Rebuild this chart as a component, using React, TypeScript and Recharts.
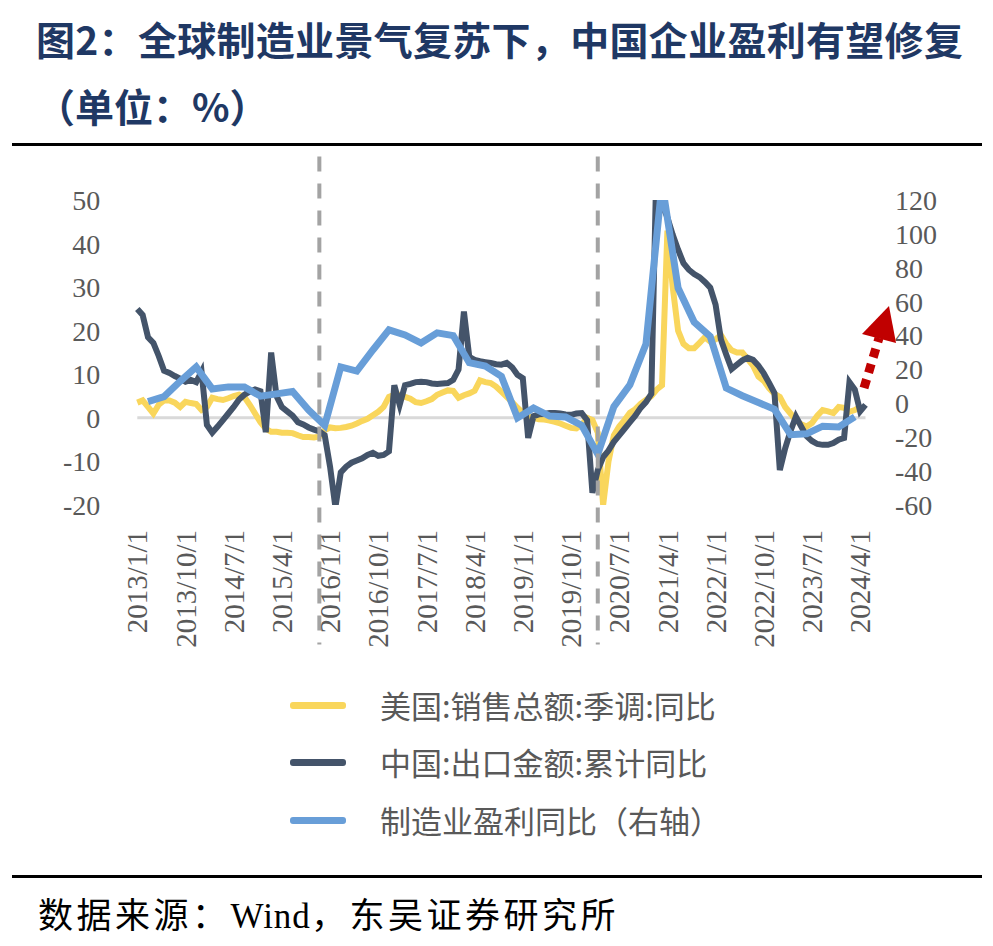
import React from 'react';
import { LineChart, Line, XAxis, YAxis, ReferenceLine } from 'recharts';

// Monthly categories 2013/1 .. 2024/5
const FIRST_YEAR = 2013;
const MONTHS = 137;
const dates: string[] = Array.from({ length: MONTHS }, (_, i) => `${FIRST_YEAR + Math.floor(i / 12)}/${(i % 12) + 1}/1`);

// 美国:销售总额:季调:同比 (left axis, %)
const usSales: (number | null)[] = [
  3.5, 4, 2.5, 1, 3, 4, 4, 3.5, 2.5, 3.7, 3.4, 3.2,
  1.8, 2.5, 4.6, 4.3, 4.1, 4.5, 5, 5.3, 4.8, 3, 1, -1,
  -2.5, -3.2, -3.2, -3.4, -3.4, -3.5, -4, -4.4, -4.4, -4.5, -4.3, -2.8,
  -2.2, -2.4, -2.3, -2.1, -1.8, -1.3, -0.7, -0.2, 0.6, 1.4, 2.5, 4.8,
  5.3, 5.3, 4.8, 4.4, 3.6, 3.4, 3.8, 4.3, 5.3, 5.8, 6.3, 6.2,
  4.6, 5.2, 5.6, 6.2, 8.6, 8.2, 8, 7.2, 6, 4.8, 3.6, 2.3,
  1.2, 0.4, 0, -0.3, -0.4, -0.6, -0.9, -1.3, -1.8, -2.3, -2.4, -1.6,
  0, -0.5, -3.4, -20, -10, -4, -2, -0.5, 1.2, 2, 3.2, 4.1,
  5, 6.5, 7.5, 43, 30, 20, 17, 16, 16, 17.2, 18.5, 17.5,
  18, 19, 17, 15.5, 15, 15, 13.5, 12, 9.5, 8.5, 6.8, 5.5,
  4.8, 2.5, 1, -0.5, -1.5, -2, -1.2, 0.5, 1.8, 1.5, 1.1, 2.5,
  2.3, 1.4, 1.8, 2.5, null,
];

// 中国:出口金额:累计同比 (left axis, %)
const cnExports: (number | null)[] = [
  25, 23.6, 18.5, 17.2, 14.2, 10.8, 10.3, 9.6, 9, 8.3, 8.7, 8.2,
  10.6, -1.6, -3.4, -2, -0.5, 1, 2.5, 4.2, 5.3, 6, 6.5, 6.1,
  -3.3, 15, 5, 2.5, 1.5, 0.5, -1, -1.5, -2.2, -2.7, -3.1, -4,
  -11.2, -20.5, -12.5, -11.2, -10.3, -9.8, -9.3, -8.5, -8, -8.7, -8.5, -7.7,
  7.5, 3, 7.5, 7.8, 8.2, 8.3, 8.2, 7.9, 7.8, 7.9, 8, 8.7,
  11.1, 24.4, 14, 13.3, 13, 12.8, 12.6, 12.3, 12.2, 12.6, 11.6, 9.9,
  9.1, -4.6, 0.4, 0.8, 0.9, 1.1, 1.1, 1, 0.8, 0.7, 1, 1.1,
  -0.5, -17.2, -12, -9, -7.5, -5.5, -4, -2.5, -1, 0.5, 2.3, 3.6,
  5.5, 60.6, 49, 46, 42, 38.6, 35.5, 34, 33, 32.3, 31.2, 29.9,
  26, 18, 14.5, 11.2, 12.2, 13.2, 13.8, 13.3, 12, 10.2, 8, 5.7,
  -12, -7, -3, 0.3, -2, -4.2, -5.3, -6, -6.2, -6.2, -5.8, -5,
  -4.6, 8.2, 6.5, 1.5, 3,
];

// 制造业盈利同比（右轴）, quarterly (Mar/Jun/Sep/Dec), 2013Q1 .. 2024Q1
const profitQuarterly: number[] = [
  1, 4, 13, 21.5,
  8.5, 9.7, 9.7, 4.2,
  5.6, 7, -4, -13,
  21.5, 19, 31.5, 43.4,
  40.4, 35.6, 41.6, 40,
  24, 22, 16, -8.6,
  -2.7, -7.5, -8, -13,
  -30, -2, 11, 35,
  130, 68, 48, 39.5,
  9, 4.5, 0.5, -3.5,
  -18.5, -18, -13.5, -14,
  -8,
];

const leftTicks = [-20, -10, 0, 10, 20, 30, 40, 50];
const rightTicks = [-60, -40, -20, 0, 20, 40, 60, 80, 100, 120];
const markerDates = ['2015/11/1', '2020/3/1'];

const seriesNames = {
  us: '美国:销售总额:季调:同比',
  cn: '中国:出口金额:累计同比',
  profit: '制造业盈利同比（右轴）',
};

const rows = dates.map((date, i) => ({
  date,
  us: usSales[i] ?? null,
  cn: cnExports[i] ?? null,
  profit: i % 3 === 2 && profitQuarterly[(i - 2) / 3] !== undefined ? profitQuarterly[(i - 2) / 3] : null,
}));

const COLORS = { us: '#F9D65C', cn: '#44546A', profit: '#689ED8' };
const AXIS_FONT = '"Liberation Serif", "Times New Roman", serif';
const CJK_FONT = '"Noto Sans CJK SC", "Noto Sans", sans-serif';

const XTick = (props: any) => {
  const { x, y, payload } = props;
  return (
    <text
      x={x}
      y={y}
      transform={`rotate(-90, ${x}, ${y})`}
      textAnchor="end"
      dy="0.35em"
      fontSize={29}
      fill="#595959"
      fontFamily={AXIS_FONT}
    >
      {payload.value}
    </text>
  );
};

const tickStyle = { fontSize: 28, fill: '#595959', fontFamily: AXIS_FONT };

export default function App() {
  const legendItems = [
    { key: 'us', label: seriesNames.us, color: COLORS.us, cy: 705 },
    { key: 'cn', label: seriesNames.cn, color: COLORS.cn, cy: 762 },
    { key: 'profit', label: seriesNames.profit, color: COLORS.profit, cy: 820 },
  ];
  return (
    <div style={{ position: 'absolute', left: 0, top: 0, width: 993, height: 946, background: '#fff', overflow: 'hidden' }}>
      <div style={{ position: 'absolute', left: 36, top: 17, fontFamily: CJK_FONT, fontWeight: 700, fontSize: 39, letterSpacing: 0.3, lineHeight: '42px', color: '#1F3864', whiteSpace: 'nowrap' }}>
        图2：全球制造业景气复苏下，中国企业盈利有望修复
      </div>
      <div style={{ position: 'absolute', left: 36, top: 84, fontFamily: CJK_FONT, fontWeight: 700, fontSize: 39, lineHeight: '42px', color: '#1F3864', whiteSpace: 'nowrap' }}>
        （单位：%）
      </div>
      <div style={{ position: 'absolute', left: 12, top: 143, width: 970, height: 3, background: '#000' }} />
      <div style={{ position: 'absolute', left: 12, top: 875, width: 970, height: 3, background: '#000' }} />

      <div style={{ position: 'absolute', left: 0, top: 0 }}>
        <LineChart width={993} height={655} data={rows} margin={{ top: 200, right: 0, bottom: 0, left: 0 }}>
          <XAxis
            dataKey="date"
            interval={8}
            tick={<XTick />}
            axisLine={false}
            tickLine={false}
            tickMargin={19}
            height={150}
          />
          <YAxis
            yAxisId="left"
            domain={[-20, 50]}
            ticks={leftTicks}
            interval={0}
            allowDataOverflow
            width={137.3}
            axisLine={false}
            tickLine={false}
            tickMargin={31}
            tick={tickStyle}
          />
          <YAxis
            yAxisId="right"
            orientation="right"
            domain={[-60, 120]}
            ticks={rightTicks}
            interval={0}
            allowDataOverflow
            width={127.5}
            axisLine={false}
            tickLine={false}
            tickMargin={23.5}
            tick={tickStyle}
          />
          <ReferenceLine yAxisId="left" y={0} stroke="#D9D9D9" strokeWidth={3} />
          <Line yAxisId="left" type="linear" dataKey="us" name={seriesNames.us} stroke={COLORS.us} strokeWidth={6} dot={false} activeDot={false} isAnimationActive={false} />
          <Line yAxisId="left" type="linear" dataKey="cn" name={seriesNames.cn} stroke={COLORS.cn} strokeWidth={6} dot={false} activeDot={false} isAnimationActive={false} />
          <Line yAxisId="right" type="linear" dataKey="profit" name={seriesNames.profit} stroke={COLORS.profit} strokeWidth={7} dot={false} activeDot={false} connectNulls isAnimationActive={false} />
          {markerDates.map((d) => (
            <ReferenceLine
              key={d}
              yAxisId="left"
              segment={[{ x: d, y: 60 }, { x: d, y: -52 }]}
              ifOverflow="visible"
              stroke="#A3A3A3"
              strokeWidth={4}
              strokeDasharray="15 12"
            />
          ))}
        </LineChart>
      </div>

      <svg style={{ position: 'absolute', left: 0, top: 0 }} width={993} height={946}>
        <line x1={864} y1={388} x2={879} y2={338} stroke="#C00000" strokeWidth={9} strokeDasharray="9 7" />
        <polygon points="862,334 896,343 889,306" fill="#C00000" />
      </svg>

      {legendItems.map((it) => (
        <React.Fragment key={it.key}>
          <div style={{ position: 'absolute', left: 290, top: it.cy - 3.5, width: 56, height: 7, background: it.color, borderRadius: 3 }} />
          <div style={{ position: 'absolute', left: 380, top: it.cy - 17, fontFamily: CJK_FONT, fontSize: 31, lineHeight: '34px', color: '#595959', whiteSpace: 'nowrap' }}>
            {it.label}
          </div>
        </React.Fragment>
      ))}

      <div style={{ position: 'absolute', left: 38, top: 893, fontFamily: CJK_FONT, fontSize: 35, letterSpacing: 3.5, lineHeight: '40px', color: '#000', whiteSpace: 'nowrap' }}>
        数据来源：<span style={{ fontFamily: AXIS_FONT, letterSpacing: 1 }}>Wind</span>，东吴证券研究所
      </div>
    </div>
  );
}
